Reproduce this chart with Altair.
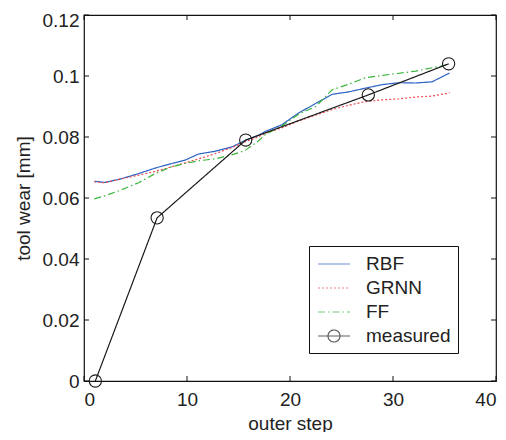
import altair as alt
import pandas as pd

# ---- data ----
steps = [1, 2, 3.5, 5.3, 6.9, 8.5, 9.8, 11.1, 12.7, 14.4, 15.6, 16.9, 17.6,
         19.2, 20.8, 22.5, 24.1, 25.7, 27.3, 29, 30.6, 32.2, 33.8, 35.5]
rbf = [0.0655, 0.0651, 0.0662, 0.0680, 0.0698, 0.0713, 0.0724, 0.0744, 0.0753,
       0.0768, 0.0788, 0.0805, 0.0818, 0.0840, 0.0878, 0.0910, 0.0940, 0.0948,
       0.0960, 0.0972, 0.0978, 0.0977, 0.0981, 0.1010]
grnn = [0.0653, 0.0650, 0.0662, 0.0675, 0.0687, 0.0702, 0.0715, 0.0728, 0.0745,
        0.0766, 0.0784, 0.0800, 0.0812, 0.0830, 0.0852, 0.0872, 0.0890, 0.0904,
        0.0916, 0.0922, 0.0925, 0.0931, 0.0934, 0.0945]
ff = [0.0597, 0.0607, 0.0625, 0.0650, 0.0680, 0.0702, 0.0713, 0.0722, 0.0728,
      0.0742, 0.0755, 0.0786, 0.0808, 0.0836, 0.0874, 0.0900, 0.0955, 0.0973,
      0.0994, 0.1002, 0.1009, 0.1016, 0.1027, 0.1038]
meas_steps = [1.1, 7.1, 15.7, 27.6, 35.4]
measured = [0.0, 0.0535, 0.0790, 0.0938, 0.1040]

x_ticks = [0, 10, 20, 30, 40]
y_ticks = [0, 0.02, 0.04, 0.06, 0.08, 0.1, 0.12]

series_names = ["RBF", "GRNN", "FF", "measured"]
colors = ["#2a62c4", "#ea4a50", "#3cb43c", "#1a1a1a"]
dashes = [[1, 0], [2, 2], [7, 3, 1.5, 3], [1, 0]]
line_sym = "M-1.6,0L1.6,0"
meas_sym = "M-1.6,0L1.6,0M0.6,0A0.6,0.6,0,1,1,-0.6,0A0.6,0.6,0,1,1,0.6,0"
legend_shapes = [line_sym, line_sym, line_sym, meas_sym]

# ---- tables ----
rows = []
for name, vals in (("RBF", rbf), ("GRNN", grnn), ("FF", ff)):
    for s, v in zip(steps, vals):
        rows.append({"step": s, "value": v, "series": name})
for s, v in zip(meas_steps, measured):
    rows.append({"step": s, "value": v, "series": "measured"})
df = pd.DataFrame(rows)
meas_df = pd.DataFrame({"step": meas_steps, "value": measured, "series": "measured"})
xt = pd.DataFrame({"step": x_ticks})
yt = pd.DataFrame({"value": y_ticks})

W, H = 412, 366
FONT = "Liberation Sans"
TXT = "#222222"

xs = alt.Scale(domain=[0, 40], nice=False, zero=False)
ys = alt.Scale(domain=[0, 0.12], nice=False, zero=False)
cs = alt.Scale(domain=series_names, range=colors)
ds = alt.Scale(domain=series_names, range=dashes)
ss = alt.Scale(domain=series_names, range=legend_shapes)
leg = alt.Legend(title=None)

x_axis = alt.Axis(values=x_ticks, format="d", title="outer step", labelPadding=9, titlePadding=5)
y_axis = alt.Axis(values=y_ticks, format=".2~f", title="tool wear [mm]", labelPadding=5, titlePadding=9,
                  labelOffset={"condition": {"test": "datum.value >= 0.119", "value": 5}, "value": 0})

X = alt.X("step:Q", scale=xs, axis=x_axis)
Y = alt.Y("value:Q", scale=ys, axis=y_axis)

lines = alt.Chart(df).mark_line(strokeWidth=1.2).encode(
    x=X, y=Y,
    color=alt.Color("series:N", scale=cs, legend=leg),
    strokeDash=alt.StrokeDash("series:N", scale=ds, legend=leg),
    detail="series:N",
)

points = alt.Chart(meas_df).mark_point(shape="circle", filled=False, size=150,
                                       color="#1a1a1a", strokeWidth=1.1, opacity=1).encode(
    x=X, y=Y,
)

helper = alt.Chart(meas_df).transform_filter("false").mark_point(filled=False, strokeWidth=1.2).encode(
    x=X, y=Y,
    color=alt.Color("series:N", scale=cs, legend=leg),
    shape=alt.Shape("series:N", scale=ss, legend=leg),
)

TK = 5
left_t = alt.Chart(yt).mark_rule(color="#111").encode(
    y=Y, x=alt.value(0), x2=alt.value(TK))
right_t = alt.Chart(yt).mark_rule(color="#111").encode(
    y=Y, x=alt.value(W - TK), x2=alt.value(W))
bot_t = alt.Chart(xt).mark_rule(color="#111").encode(
    x=X, y=alt.value(H - TK), y2=alt.value(H))
top_t = alt.Chart(xt).mark_rule(color="#111").encode(
    x=X, y=alt.value(0), y2=alt.value(TK))

chart = alt.layer(lines, points, helper, left_t, right_t, bot_t, top_t).properties(
    width=W, height=H,
    padding={"left": 76, "top": 7, "right": 2, "bottom": 51},
    autosize=alt.AutoSizeParams(type="none"),
    background="white",
).configure_view(
    stroke="#111", strokeWidth=1.2
).configure_axis(
    labelFont=FONT, labelFontSize=19, labelColor=TXT,
    titleFont=FONT, titleFontSize=19, titleColor=TXT, titleFontWeight="normal",
    grid=False, domain=False, ticks=False,
).configure_legend(
    orient="none", legendX=225, legendY=231,
    strokeColor="#111", fillColor="white", padding=7, cornerRadius=0,
    labelFont=FONT, labelFontSize=19, labelColor=TXT, labelOffset=21,
    symbolSize=400, symbolStrokeWidth=1.2, symbolOffset=7, rowPadding=3,
)

chart.save("out.html", embed_options={"renderer": "svg", "actions": False})
